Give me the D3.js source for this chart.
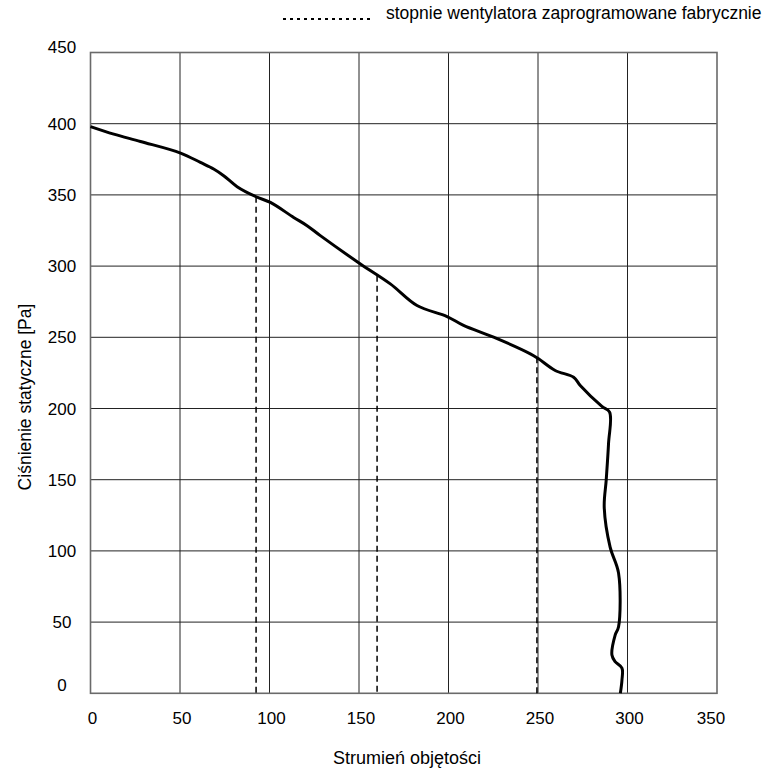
<!DOCTYPE html>
<html>
<head>
<meta charset="utf-8">
<script src="https://cdn.jsdelivr.net/npm/d3@7"></script>
<style>
  body { margin: 0; background: #fff; }
  svg { font-family: "Liberation Sans", Arial, sans-serif; }
</style>
</head>
<body>
<svg width="766" height="770"></svg>
<script>
// fan curve
const flow = [0, 13, 27.9, 50.3, 61.4, 68.8, 74.4, 81.9, 92.5, 100.5, 113.5, 121, 128.4,
    150.8, 167.5, 182.4, 199.2, 208.4, 225.2, 245.7, 250.3, 259.6, 269.9, 273.6, 285.7,
    290, 289.4, 288.1, 287, 290.3, 295, 295, 293.1, 291.3, 293.1, 296.9, 296.9, 296];
const pressure = [398, 392.7, 387.5, 379.4, 372.8, 368.2, 363.5, 355.8, 348.7, 344.7, 334.2, 328.4, 321.4,
    301.5, 287.5, 272.3, 264.6, 258.3, 250.1, 238.4, 234.9, 226.7, 222, 216.2, 201.5,
    197.5, 175.3, 149.7, 130.6, 102.6, 84.4, 46.7, 40.9, 26.9, 22.2, 17.7, 9.3, 0];

// factory fan steps (dashed drops)
const stepFlow = [92.5, 160.1, 249.4];
const stepPressure = [348.7, 293.3, 236];

const xTicks = [0, 50, 100, 150, 200, 250, 300, 350];
const yTicks = [0, 50, 100, 150, 200, 250, 300, 350, 400, 450];

const legendLabel = 'stopnie wentylatora zaprogramowane fabrycznie';
const xTitle = 'Strumień objętości';
const yTitle = 'Ciśnienie statyczne [Pa]';

const svg = d3.select('svg');

const x = d3.scaleLinear().domain([0, 350]).range([90.5, 717]);
const y = d3.scaleLinear().domain([0, 450]).range([693.3, 52.5]);

// grid
const grid = svg.append('g');
grid.selectAll('.vx')
    .data(xTicks.slice(1, -1))
    .enter().append('line')
    .attr('x1', d => x(d)).attr('x2', d => x(d))
    .attr('y1', y(450)).attr('y2', y(0))
    .attr('stroke', '#222').attr('stroke-width', 1);
grid.selectAll('.hy')
    .data(yTicks.slice(1, -1))
    .enter().append('line')
    .attr('x1', x(0)).attr('x2', x(350))
    .attr('y1', d => y(d)).attr('y2', d => y(d))
    .attr('stroke', '#222').attr('stroke-width', 1);

// frame
svg.append('rect')
    .attr('x', x(0)).attr('y', y(450))
    .attr('width', x(350) - x(0)).attr('height', y(0) - y(450))
    .attr('fill', 'none').attr('stroke', '#6a6a6a').attr('stroke-width', 1.6);

// tick labels
svg.append('g').selectAll('text')
    .data(xTicks)
    .enter().append('text')
    .attr('x', d => x(d) + (d === 350 ? -6 : 2))
    .attr('y', y(0) + 31)
    .attr('text-anchor', 'middle')
    .style('font-size', '17px')
    .text(d => d);

svg.append('g').selectAll('text')
    .data(yTicks)
    .enter().append('text')
    .attr('x', 62)
    .attr('y', d => y(d) + (d === 0 ? -2 : d === 450 ? 0 : 6))
    .attr('text-anchor', 'middle')
    .style('font-size', '17px')
    .text(d => d);

// axis titles
svg.append('text')
    .attr('x', 407).attr('y', 764)
    .attr('text-anchor', 'middle')
    .style('font-size', '18px')
    .text(xTitle);

svg.append('text')
    .attr('transform', 'translate(31,397) rotate(-90)')
    .attr('text-anchor', 'middle')
    .style('font-size', '17.5px')
    .text(yTitle);

// dashed fan steps
svg.append('g').selectAll('line')
    .data(stepFlow)
    .enter().append('line')
    .attr('x1', d => x(d)).attr('x2', d => x(d))
    .attr('y1', (d, i) => y(stepPressure[i])).attr('y2', y(0))
    .attr('stroke', '#000').attr('stroke-width', 1.5)
    .attr('stroke-dasharray', '6,4');

// fan curve
const pts = flow.map((f, i) => [f, pressure[i]]);
const line = d3.line()
    .x(d => x(d[0]))
    .y(d => y(d[1]))
    .curve(d3.curveCatmullRom.alpha(0.5));

svg.append('path')
    .attr('d', line(pts))
    .attr('fill', 'none')
    .attr('stroke', '#000')
    .attr('stroke-width', 3)
    .attr('stroke-linejoin', 'round');

// legend
svg.append('line')
    .attr('x1', 283).attr('x2', 373)
    .attr('y1', 19).attr('y2', 19)
    .attr('stroke', '#000').attr('stroke-width', 2)
    .attr('stroke-dasharray', '3,4');
svg.append('text')
    .attr('x', 386).attr('y', 19)
    .style('font-size', '17.5px')
    .text(legendLabel);
</script>
</body>
</html>
